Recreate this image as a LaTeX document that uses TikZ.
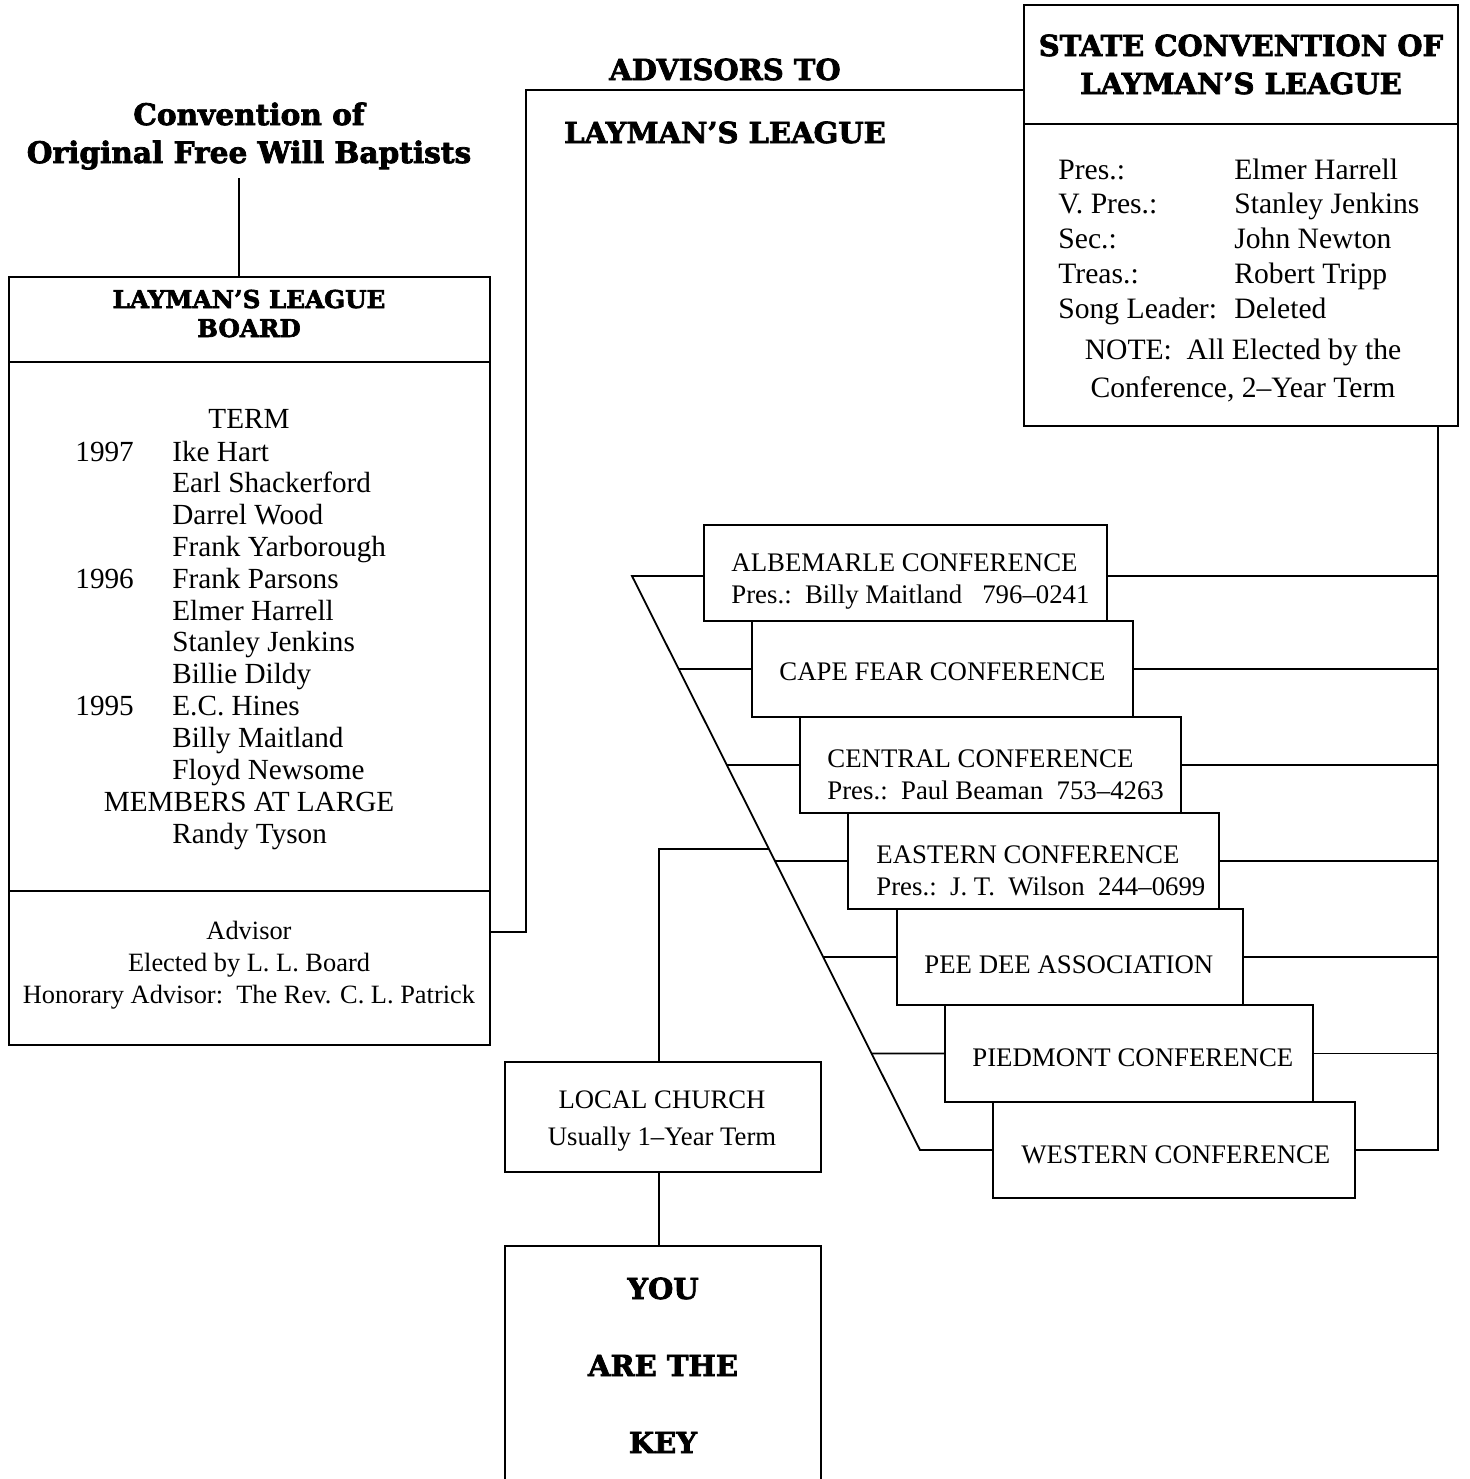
\documentclass[tikz,border=0pt]{standalone}
\usepackage{fontspec}
\setmainfont{Liberation Serif}
\newfontfamily\hf{DejaVu Serif}[BoldFeatures={FakeBold=2.5}]
\usetikzlibrary{fit,calc}
\begin{document}
\begin{tikzpicture}[x=0.5pt,y=-0.5pt,
  box/.style={draw,line width=0.9pt,inner sep=0pt},
  ln/.style={line width=0.9pt},
  tb/.style={anchor=base,inner sep=0pt,font=\fontsize{14.6}{17}\selectfont},
  tbl/.style={anchor=base west,inner sep=0pt,font=\fontsize{14.6}{17}\selectfont},
  ta/.style={anchor=base,inner sep=0pt,font=\fontsize{13.2}{16}\selectfont},
  ts/.style={anchor=base west,inner sep=0pt,font=\fontsize{14.8}{17}\selectfont},
  tsc/.style={anchor=base,inner sep=0pt,font=\fontsize{14.8}{17}\selectfont},
  tc/.style={anchor=base west,inner sep=0pt,font=\fontsize{13.4}{16}\selectfont},
  tl/.style={anchor=base,inner sep=0pt,font=\fontsize{13.35}{16}\selectfont},
  hd/.style={anchor=base,inner sep=0pt,font=\hf\bfseries\fontsize{#1}{#1}\selectfont},
  hd/.default=14.5]
\useasboundingbox (0,0) rectangle (1469,1479);

% --- title and board
\node[hd=14.8] (tt1) at (249,125) {Convention of};
\node[hd=14.8] (tt2) at (249,163) {Original Free Will Baptists};
\node[box,fit={(9,277)(490,1045)}] (board) {};
\coordinate (tx) at (239,178);
\draw[ln] (tx) -- (tx |- board.north);
\draw[ln] (board.west |- 0,362) -- (board.east |- 0,362);
\draw[ln] (board.west |- 0,891) -- (board.east |- 0,891);
\node[hd=12.3] (bh1) at (249,308) {LAYMAN’S LEAGUE};
\node[hd=12.3] (bh2) at (249,337) {BOARD};
\node[tb] (term) at (249,428) {TERM};
\node[tbl] (y97) at (75,461) {1997};
\node[tbl] (y96) at (75,588) {1996};
\node[tbl] (y95) at (75,715) {1995};
\foreach \nm [count=\i] in {Ike Hart,Earl Shackerford,Darrel Wood,Frank Yarborough,Frank Parsons,Elmer Harrell,Stanley Jenkins,Billie Dildy,E.C. Hines,Billy Maitland,Floyd Newsome}
  \node[tbl] (bn\i) at (172,{461+(\i-1)*31.8}) {\nm};
\node[tb] (mal) at (249,811) {MEMBERS AT LARGE};
\node[tbl] (rt) at (172,843) {Randy Tyson};
\node[ta] (adv1) at (249,939) {Advisor};
\node[ta] (adv2) at (249,971) {Elected by L. L. Board};
\node[ta] (adv3) at (249,1003) {Honorary Advisor:\ \ The Rev. C. L. Patrick};

% --- advisors / state convention
\node[hd] (at1) at (725,80) {ADVISORS TO};
\node[hd] (at2) at (725,143) {LAYMAN’S LEAGUE};
\node[box,fit={(1024,5)(1458,426)}] (state) {};
\draw[ln] (state.west |- 0,124) -- (state.east |- 0,124);
\node[hd] (st1) at (1241,56) {STATE CONVENTION OF};
\node[hd] (st2) at (1241,94) {LAYMAN’S LEAGUE};
\foreach \lab/\val [count=\i] in {Pres.:/Elmer Harrell,V. Pres.:/Stanley Jenkins,Sec.:/John Newton,Treas.:/Robert Tripp,Song Leader:/Deleted}{
  \node[ts] (sl\i) at (1058,{179+(\i-1)*34.8}) {\lab};
  \node[ts] (sv\i) at (1234,{179+(\i-1)*34.8}) {\val};
}
\node[tsc] (note1) at (1243,359) {NOTE:\ \ All Elected by the};
\node[tsc] (note2) at (1243,397) {Conference, 2–Year Term};
\draw[ln] (board.east |- 0,932) -- ++(35,0) |- (state.west |- 0,90);

% --- conferences
\node[box,fit={(704,525)(1107,621)}] (c1) {};
\node[box,fit={(752,621)(1133,717)}] (c2) {};
\node[box,fit={(800,717)(1181,813)}] (c3) {};
\node[box,fit={(848,813)(1219,909)}] (c4) {};
\node[box,fit={(897,909)(1243,1005)}] (c5) {};
\node[box,fit={(945,1005)(1313,1102)}] (c6) {};
\node[box,fit={(993,1102)(1355,1198)}] (c7) {};
\node[tc] (c1a) at (731,571) {ALBEMARLE CONFERENCE};
\node[tc] (c1b) at (731,603) {Pres.:\ \ Billy Maitland\ \ \ 796–0241};
\node[tc] (c2a) at (779,680) {CAPE FEAR CONFERENCE};
\node[tc] (c3a) at (827,767) {CENTRAL CONFERENCE};
\node[tc] (c3b) at (827,799) {Pres.:\ \ Paul Beaman\ \ 753–4263};
\node[tc] (c4a) at (876,863) {EASTERN CONFERENCE};
\node[tc] (c4b) at (876,895) {Pres.:\ \ J. T.\ \ Wilson\ \ 244–0699};
\node[tc] (c5a) at (924,973) {PEE DEE ASSOCIATION};
\node[tc] (c6a) at (972,1066) {PIEDMONT CONFERENCE};
\node[tc] (c7a) at (1021,1163) {WESTERN CONFERENCE};

% right bus
\coordinate (bus) at (1438,0);
\coordinate (h0) at (0,576);
\draw[ln] (state.south -| bus) -- (c7.east -| bus) -- (c7.east);
\draw[ln] (c1.east |- h0) -- (bus |- h0);
\foreach \c in {c2,c3,c4,c5,c6}
  \draw[ln] (\c.east) -- (\c.east -| bus);

% left diagonal
\coordinate (dtop) at (632,576);
\coordinate (dbot) at (920,1150);
\draw[ln] (c1.west |- h0) -- (dtop) -- (dbot) -- (c7.west);
\foreach \c in {c2,c3,c4,c5,c6}
  \draw[ln] (\c.west) -- (intersection of dtop--dbot and \c.west--\c.east);

% local church
\node[box,fit={(505,1062)(821,1172)}] (local) {};
\node[tl] (lc1) at (662,1108) {LOCAL CHURCH};
\node[tl] (lc2) at (662,1145) {Usually 1–Year Term};
\coordinate (lx) at (659,0);
\coordinate (h1) at (0,849);
\coordinate (h2) at (100,849);
\draw[ln] (local.north -| lx) -- (h1 -| lx) -- (intersection of dtop--dbot and h1--h2);

% you are the key
\node[box,fit={(505,1246)(821,1500)}] (key) {};
\draw[ln] (local.south -| lx) -- (key.north -| lx);
\node[hd] (k1) at (663,1299) {YOU};
\node[hd] (k2) at (663,1376) {ARE THE};
\node[hd] (k3) at (663,1453) {KEY};
\end{tikzpicture}
\end{document}
